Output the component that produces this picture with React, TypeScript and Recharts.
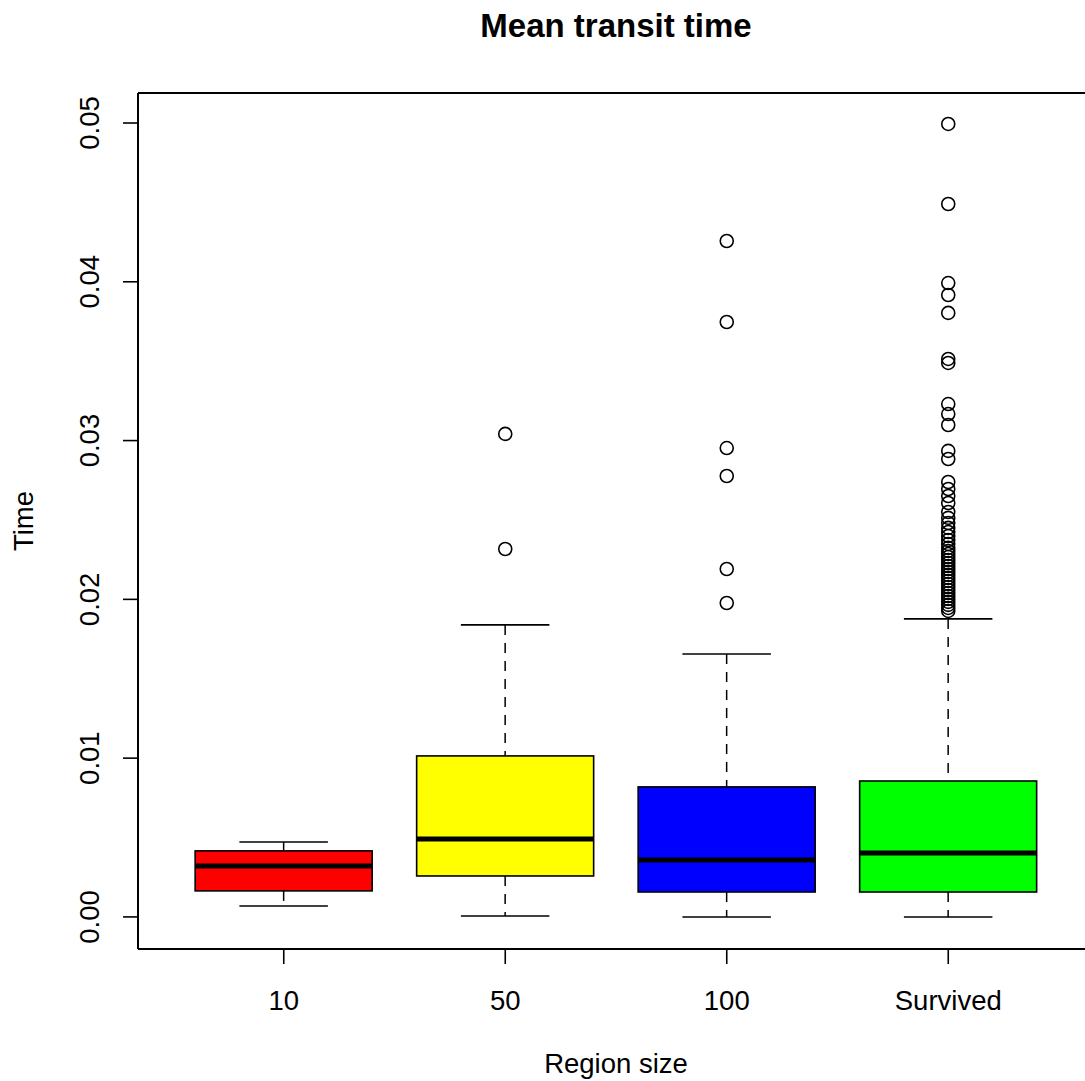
import { ComposedChart, Bar, Scatter, XAxis, YAxis, ReferenceLine } from "recharts";

const groups = ["10", "50", "100", "Survived"];
const colors = ["#ff0000", "#ffff00", "#0000ff", "#00ff00"];

// five-number summaries
const whiskerLow = [0.00069, 0.00006, 0.0, 0.0];
const q1 = [0.00164, 0.00258, 0.00157, 0.00157];
const median = [0.00321, 0.00491, 0.00359, 0.00403];
const q3 = [0.00416, 0.01014, 0.00819, 0.00856];
const whiskerHigh = [0.00472, 0.01839, 0.01656, 0.01877];

const outliers50 = [0.03042, 0.02317];
const outliers100 = [0.04257, 0.03747, 0.02953, 0.02777, 0.02191, 0.01977];
const outliersSurvived = [
  0.04994, 0.0449, 0.03992, 0.03917, 0.03804, 0.03514, 0.03489, 0.0323, 0.03167,
  0.03098, 0.02935, 0.02884, 0.02739, 0.02695, 0.02651, 0.02607, 0.0255, 0.02513,
  0.02481, 0.0245, 0.02424, 0.02399, 0.02374, 0.02349, 0.02324, 0.02305, 0.02286,
  0.02267, 0.02248, 0.02229, 0.0221, 0.02191, 0.02173, 0.02154, 0.02135, 0.02116,
  0.02097, 0.02078, 0.02059, 0.0204, 0.02021, 0.02003, 0.01984, 0.01965, 0.01946,
  0.01927,
];

const yTicks = [0, 0.01, 0.02, 0.03, 0.04, 0.05];
const yDomain = [-0.00202, 0.05189];

const boxData = groups.map((g, i) => ({
  group: g,
  box: [q1[i], q3[i]],
  lo: whiskerLow[i],
  med: median[i],
  hi: whiskerHigh[i],
}));

const outlierData = [
  ...outliers50.map((v) => ({ group: "50", value: v })),
  ...outliers100.map((v) => ({ group: "100", value: v })),
  ...outliersSurvived.map((v) => ({ group: "Survived", value: v })),
];

const FONT = "'Liberation Sans', Arial, Helvetica, sans-serif";

function BoxShape(props: any) {
  const { x, y, width, height, payload, index } = props;
  const top = Math.min(y, y + height);
  const h = Math.abs(height);
  const [lo, hi] = payload.box;
  const ppu = h / (hi - lo);
  const py = (v: number) => top + (hi - v) * ppu;
  const cx = x + width / 2;
  const cap = width / 4;
  const yHi = py(payload.hi);
  const yLo = py(payload.lo);
  const yMed = py(payload.med);
  return (
    <g>
      <line x1={cx} x2={cx} y1={yHi} y2={top} stroke="#000" strokeWidth={1.5} strokeDasharray="10 8" />
      <line x1={cx} x2={cx} y1={top + h} y2={yLo} stroke="#000" strokeWidth={1.5} strokeDasharray="10 8" />
      <line x1={cx - cap} x2={cx + cap} y1={yHi} y2={yHi} stroke="#000" strokeWidth={1.6} />
      <line x1={cx - cap} x2={cx + cap} y1={yLo} y2={yLo} stroke="#000" strokeWidth={1.6} />
      <rect x={x} y={top} width={width} height={h} fill={colors[index]} stroke="#000" strokeWidth={1.6} />
      <line x1={x} x2={x + width} y1={yMed} y2={yMed} stroke="#000" strokeWidth={5} />
    </g>
  );
}

function YTick(props: any) {
  const { y, payload } = props;
  return (
    <text
      x={99}
      y={y}
      transform={`rotate(-90, 99, ${y})`}
      textAnchor="middle"
      fontFamily={FONT}
      fontSize={27.5}
      fill="#000"
    >
      {Number(payload.value).toFixed(2)}
    </text>
  );
}

function XTick(props: any) {
  const { x, payload } = props;
  return (
    <text x={x} y={1010} textAnchor="middle" fontFamily={FONT} fontSize={27.5} fill="#000">
      {payload.value}
    </text>
  );
}

function Circle(props: any) {
  const { cx, cy } = props;
  return <circle cx={cx} cy={cy} r={6.5} fill="none" stroke="#000" strokeWidth={1.6} />;
}

export default function App() {
  return (
    <div style={{ position: "absolute", left: 0, top: 0, width: 1085, height: 1081, overflow: "hidden", background: "#fff" }}>
      <ComposedChart
        width={1110}
        height={1081}
        data={boxData}
        margin={{ top: 93, right: 16, bottom: 72, left: 58 }}
        barCategoryGap="10%"
      >
        <XAxis
          dataKey="group"
          type="category"
          allowDuplicatedCategory={false}
          padding={{ left: 35, right: 35 }}
          height={60}
          tickSize={15}
          tickLine={{ stroke: "#000", strokeWidth: 1.6 }}
          axisLine={{ stroke: "#000", strokeWidth: 2 }}
          tick={<XTick />}
          interval={0}
        />
        <YAxis
          type="number"
          domain={yDomain}
          allowDataOverflow
          ticks={yTicks}
          width={80}
          tickSize={15}
          tickLine={{ stroke: "#000", strokeWidth: 1.6 }}
          axisLine={{ stroke: "#000", strokeWidth: 2 }}
          tick={<YTick />}
          interval={0}
        />
        <ReferenceLine y={yDomain[1]} stroke="#000" strokeWidth={2} ifOverflow="visible" />
        <Bar dataKey="box" isAnimationActive={false} shape={<BoxShape />} />
        <Scatter data={outlierData} dataKey="value" isAnimationActive={false} shape={<Circle />} />
      </ComposedChart>
      <svg width={1085} height={1081} style={{ position: "absolute", left: 0, top: 0, pointerEvents: "none" }}>
        <text x={616} y={37} textAnchor="middle" fontFamily={FONT} fontSize={33} fontWeight="bold" fill="#000">
          Mean transit time
        </text>
        <text x={616} y={1073} textAnchor="middle" fontFamily={FONT} fontSize={27.5} fill="#000">
          Region size
        </text>
        <text x={33} y={521} transform="rotate(-90, 33, 521)" textAnchor="middle" fontFamily={FONT} fontSize={27.5} fill="#000">
          Time
        </text>
      </svg>
    </div>
  );
}
